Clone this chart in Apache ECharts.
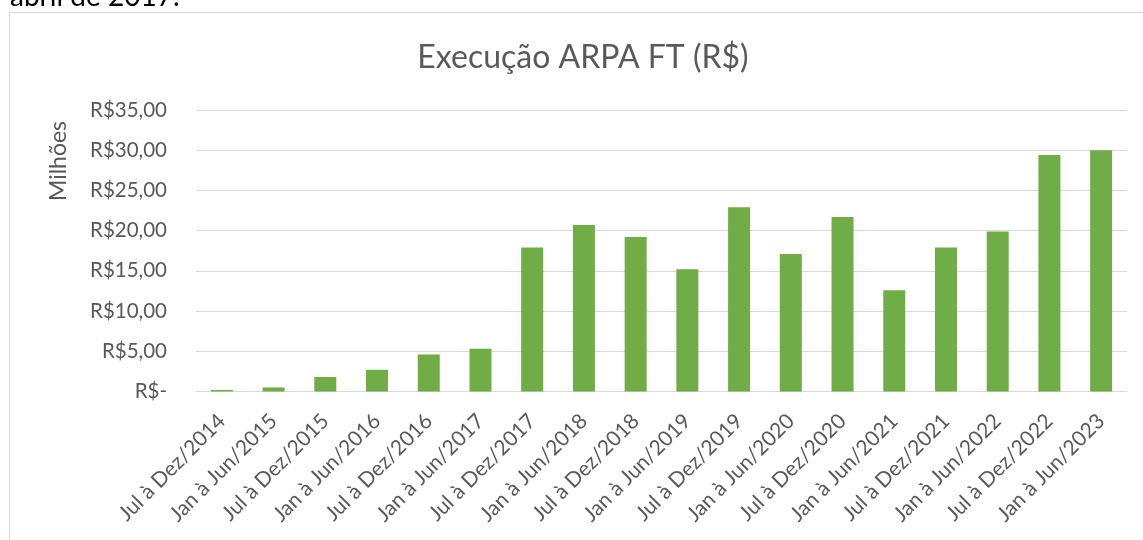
<!DOCTYPE html>
<html>
<head>
<meta charset="utf-8">
<script src="https://cdn.jsdelivr.net/npm/echarts@6/dist/echarts.min.js"></script>
<style>
html,body{margin:0;padding:0;background:#fff;}
#c{width:1143px;height:540px;}
</style>
</head>
<body>
<div id="c"></div>
<script>
const categories = [
  "Jul à Dez/2014","Jan à Jun/2015","Jul à Dez/2015","Jan à Jun/2016","Jul à Dez/2016","Jan à Jun/2017",
  "Jul à Dez/2017","Jan à Jun/2018","Jul à Dez/2018","Jan à Jun/2019","Jul à Dez/2019","Jan à Jun/2020",
  "Jul à Dez/2020","Jan à Jun/2021","Jul à Dez/2021","Jan à Jun/2022","Jul à Dez/2022","Jan à Jun/2023"
];
const execucao = [0.2, 0.5, 1.8, 2.7, 4.6, 5.3, 17.9, 20.7, 19.2, 15.2, 22.9, 17.1, 21.7, 12.6, 17.9, 19.9, 29.4, 30.0];
const yTickValues = [0, 5, 10, 15, 20, 25, 30, 35];
const yTickLabels = ["R$-", "R$5,00", "R$10,00", "R$15,00", "R$20,00", "R$25,00", "R$30,00", "R$35,00"];
const titleText = "Execução ARPA FT (R$)";
const yAxisTitle = "Milhões";
const aboveText = "abril de 2017.";

const FONT = "Lato, 'Open Sans', sans-serif";
const chart = echarts.init(document.getElementById('c'), null, {renderer: 'canvas'});
chart.setOption({
  backgroundColor: '#ffffff',
  animation: false,
  graphic: [
    {type: 'rect', shape: {x: 9.5, y: 12.5, width: 1150, height: 540}, style: {fill: 'none', stroke: '#d9d9d9', lineWidth: 1}, silent: true},
    {type: 'text', x: 10, y: 11, style: {text: aboveText, fill: '#000000', fontSize: 28, fontFamily: FONT, verticalAlign: 'bottom'}},
    {type: 'text', x: 583, y: 58, style: {text: titleText, fill: '#595959', fontSize: 32, fontFamily: FONT, align: 'center', verticalAlign: 'middle'}},
    {type: 'text', x: 59, y: 161, rotation: Math.PI / 2, style: {text: yAxisTitle, fill: '#595959', fontSize: 23, fontFamily: FONT, align: 'center', verticalAlign: 'middle'}}
  ],
  grid: {left: 196, right: 16, top: 110, bottom: 148.5, containLabel: false},
  xAxis: {
    type: 'category',
    data: categories,
    axisLine: {lineStyle: {color: '#d9d9d9', width: 1}},
    axisTick: {show: false},
    axisLabel: {rotate: 45, color: '#595959', fontSize: 21, fontFamily: FONT, interval: 0, margin: 26}
  },
  yAxis: {
    type: 'value',
    min: 0, max: 35, interval: 5,
    axisLine: {show: false},
    axisTick: {show: false},
    splitLine: {lineStyle: {color: '#d9d9d9', width: 1}},
    axisLabel: {
      color: '#595959', fontSize: 20.5, fontFamily: FONT, margin: 29,
      formatter: function (v) { const i = yTickValues.indexOf(v); return i >= 0 ? yTickLabels[i] : ''; }
    }
  },
  series: [{
    type: 'bar',
    data: execucao,
    barWidth: 22,
    itemStyle: {color: '#70AD47'}
  }]
});
</script>
</body>
</html>
